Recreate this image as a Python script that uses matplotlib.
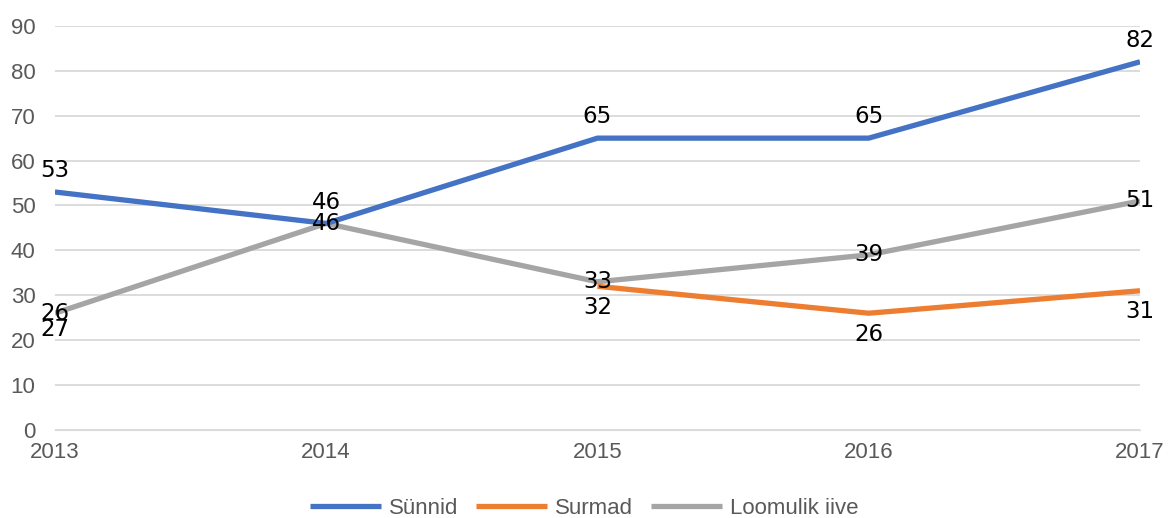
import numpy as np
import matplotlib.pyplot as plt

# andmed
years = [2013, 2014, 2015, 2016, 2017]
synnid = [53, 46, 65, 65, 82]
surmad = [27, np.nan, 32, 26, 31]
iive = [26, 46, 33, 39, 51]

fig = plt.figure(figsize=(11.68, 5.18), dpi=100)
ax = fig.add_axes([0.047, 0.17, 0.929, 0.78])

ax.plot(years, surmad, color='#ED7D31', lw=3.8, solid_capstyle='butt', label='Surmad', zorder=3)
ax.plot(years, iive, color='#A5A5A5', lw=3.8, solid_capstyle='butt', label='Loomulik iive', zorder=2)
ax.plot(years, synnid, color='#4472C4', lw=3.8, solid_capstyle='butt', label='Sünnid', zorder=4)

lab = dict(fontsize=16.5, color='black', family='DejaVu Sans', zorder=5, ha='center')
for x, y in zip(years, synnid):
    ax.annotate(str(y), (x, y), xytext=(0, 7), textcoords='offset points', va='bottom', **lab)
for x, y in zip(years, iive):
    ax.annotate(str(y), (x, y), va='center', **lab)
for x, y in zip(years, surmad):
    if not np.isnan(y):
        ax.annotate(str(int(y)), (x, y), xytext=(0, -7), textcoords='offset points', va='top', **lab)

ax.set_xlim(2013, 2017)
ax.set_ylim(0, 90)
ax.set_xticks(years)
ax.set_yticks(range(0, 91, 10))
ax.tick_params(length=0, labelsize=16, labelcolor='#595959')
ax.tick_params(axis='y', pad=14)
ax.tick_params(axis='x', pad=9)
for t in ax.get_xticklabels() + ax.get_yticklabels():
    t.set_family('Liberation Sans')
ax.grid(axis='y', color='#D9D9D9', lw=1.3)
ax.set_axisbelow(True)
for s in ax.spines.values():
    s.set_visible(False)
ax.spines['bottom'].set_visible(True)
ax.spines['bottom'].set_color('#D9D9D9')

h, l = ax.get_legend_handles_labels()
order = [2, 0, 1]
fig.legend([h[i] for i in order], [l[i] for i in order], loc='lower center',
           bbox_to_anchor=(0.5, -0.04), ncol=3, frameon=False, handlelength=3.2,
           columnspacing=0.8, handletextpad=0.35,
           prop={'family': 'Liberation Sans', 'size': 16}, labelcolor='#595959')

fig.savefig('out.png', dpi=100)
